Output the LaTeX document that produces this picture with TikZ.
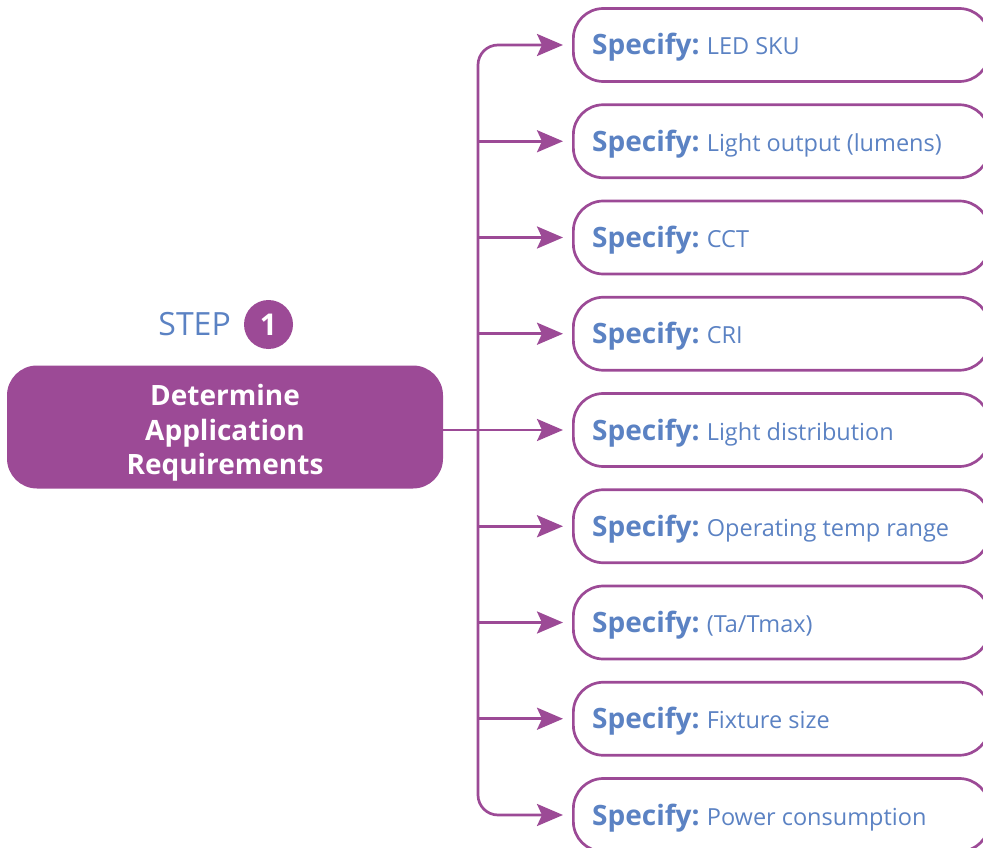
\documentclass[tikz,border=0pt]{standalone}
\usepackage{fontspec}
\setmainfont{Open Sans}
\usetikzlibrary{arrows.meta}
\definecolor{gepurple}{HTML}{9C4A96}
\definecolor{geblue}{HTML}{5B82C3}
\newcommand{\specpre}{\fontsize{28}{30}\selectfont\bfseries Specify:\ \fontsize{23.5}{25}\selectfont\mdseries}
\begin{document}
\begin{tikzpicture}[x=1pt,y=-1pt,
  specbox/.style={draw=gepurple, line width=2.7pt, rounded corners=30pt, minimum width=416pt, minimum height=73pt, anchor=west, inner sep=0pt},
  spectext/.style={anchor=base west, text=geblue, inner sep=0pt},
  mainbox/.style={fill=gepurple, rounded corners=30pt, minimum width=436pt, minimum height=123pt, inner sep=0pt},
  maintext/.style={text=white, align=center, font=\fontsize{28}{34.5}\selectfont\bfseries, inner sep=0pt},
  conn/.style={draw=gepurple, line width=2.7pt},
  arr/.style={conn, -{Stealth[length=26pt, width=22pt, inset=5pt]}, shorten >=9pt}
]
\useasboundingbox (0,0) rectangle (983,848);
\clip (0,0) rectangle (983,848);

\foreach \i/\y/\t in {1/45/{LED SKU}, 2/141.25/{Light output (lumens)}, 3/237.5/{CCT}, 4/333.75/{CRI}, 5/430/{Light distribution}, 6/526.25/{Operating temp range}, 7/622.5/{(Ta/Tmax)}, 8/718.75/{Fixture size}, 9/815/{Power consumption}}{
  \node[specbox] (b\i) at (572,\y) {};
  \node[spectext] (t\i) at (592,\y+10) {\specpre \t};
  \coordinate (j\i) at (478,\y);
}

\node[mainbox] (main) at (225,427) {};
\node[maintext] (mtext) at (225,433) {Determine\\Application\\Requirements};
\node[anchor=base east, text=geblue, font=\fontsize{32}{34}\selectfont, inner sep=0pt] (step) at (231,335) {STEP};
\node[circle, fill=gepurple, minimum size=49pt, inner sep=0pt, text=white, font=\fontsize{30}{32}\selectfont\bfseries] (num) at (268.5,324.5) {1};

\draw[arr, rounded corners=20pt] (j5) |- (b1.west);
\draw[arr, rounded corners=20pt] (j5) |- (b9.west);
\foreach \i in {2,3,4,6,7,8}{
  \draw[arr] (j\i) -- (b\i.west);
}
\draw[arr] (main.east |- b5.west) -- (b5.west);
\end{tikzpicture}
\end{document}
